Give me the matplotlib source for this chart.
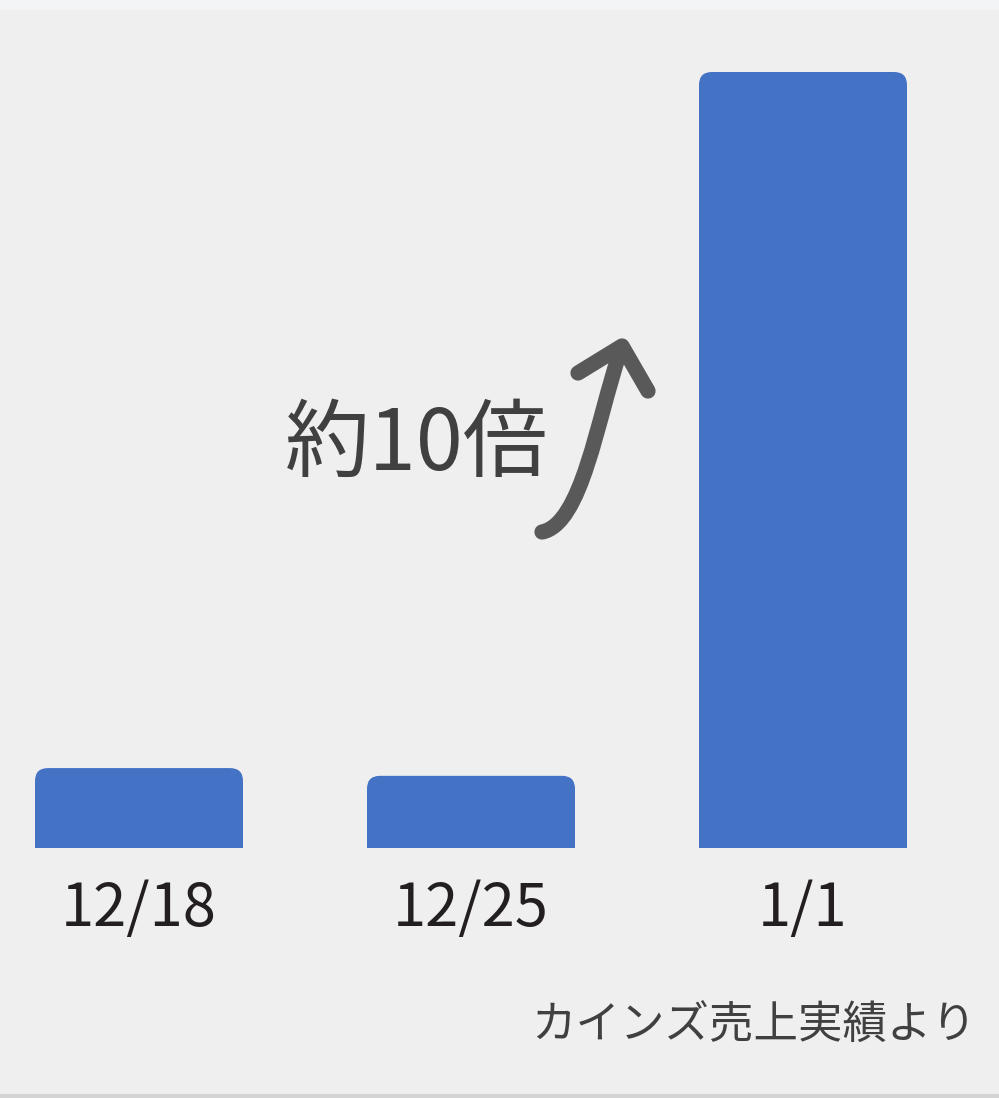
import matplotlib.pyplot as plt
from matplotlib.patches import FancyBboxPatch, Rectangle, PathPatch
from matplotlib.path import Path

plt.rcParams['font.family'] = ['Noto Sans CJK JP', 'DejaVu Sans']

# Data (relative sales, 1/1 = 100)
dates = ['12/18', '12/25', '1/1']
sales = [10.3, 9.3, 100.0]
note = '約10倍'
source = 'カインズ売上実績より'

W, H = 999, 1098
bg = '#efefef'
blue = '#4472c4'

fig = plt.figure(figsize=(W / 100, H / 100), dpi=100, facecolor=bg)

# chart axes: bottom at baseline (250 px from bottom), top at figure top
ax = fig.add_axes([0, 250 / H, 1, 848 / H])
ax.set_facecolor(bg)
ax.set_xlim(-139 / 332, (W - 139) / 332)
ymax = 848 / 7.76
ax.set_ylim(0, ymax)
for s in ax.spines.values():
    s.set_visible(False)
ax.set_yticks([])

bars = ax.bar(range(len(dates)), sales, width=208 / 332, color=blue)
# rounded top corners
aspect = (ymax / 848) * 332
r = 13 / 332
for b in bars:
    b.set_visible(False)
    x0, w, h = b.get_x(), b.get_width(), b.get_height()
    ax.add_patch(FancyBboxPatch((x0, 0), w, h,
                                boxstyle=f'round,pad=0,rounding_size={r}',
                                mutation_aspect=aspect, fc=blue, ec='none'))
    ax.add_patch(Rectangle((x0, 0), w, h / 2, fc=blue, ec='none'))

ax.set_xticks(range(len(dates)))
ax.set_xticklabels(dates, fontsize=43, color='#231f20')
ax.tick_params(axis='x', length=0, pad=22)

# overlay in pixel coordinates for annotation
ov = fig.add_axes([0, 0, 1, 1])
ov.set_xlim(0, W)
ov.set_ylim(H, 0)
ov.axis('off')
ov.patch.set_visible(False)

ov.add_patch(Rectangle((0, 0), W, 10, fc='#f3f4f6', ec='none'))
ov.add_patch(Rectangle((0, 1094), W, 4, fc='#d4d4d4', ec='none'))

ov.text(417, 446, note, fontsize=61, color='#404040', ha='center', va='center')

arrow_col = '#595959'
shaft = Path([(542, 532), (582, 524), (597, 420), (620, 352)],
             [Path.MOVETO, Path.CURVE4, Path.CURVE4, Path.CURVE4])
ov.add_patch(PathPatch(shaft, fc='none', ec=arrow_col, lw=11, capstyle='round'))
ov.plot([578, 622, 648], [373, 346, 391], color=arrow_col, lw=11,
        solid_capstyle='round', solid_joinstyle='round')

ov.text(976, 1026, source, fontsize=32, color='#404040', ha='right', va='center')

fig.savefig('out.png', dpi=100, facecolor=bg)
